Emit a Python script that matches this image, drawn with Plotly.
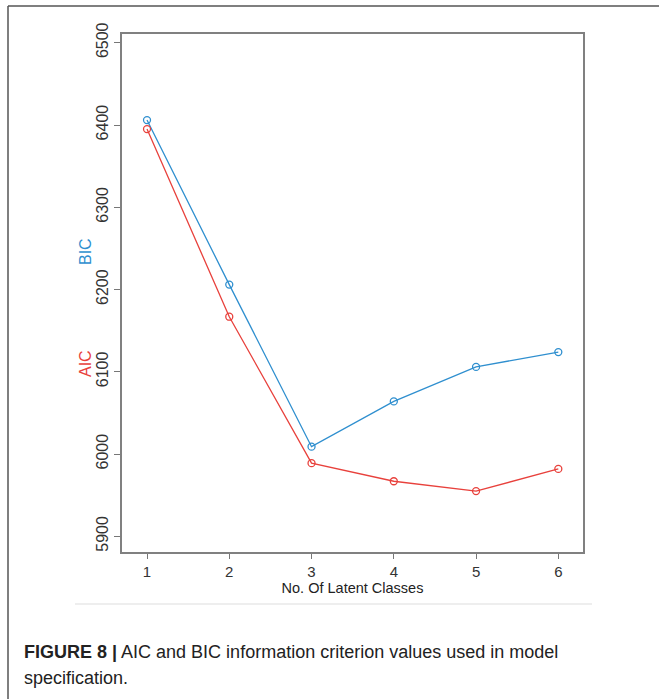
import plotly.graph_objects as go

classes = [1, 2, 3, 4, 5, 6]
aic = [6395, 6167, 5989, 5967, 5955, 5982]
bic = [6406, 6206, 6009, 6064, 6106, 6124]
y_ticks = [5900, 6000, 6100, 6200, 6300, 6400, 6500]

W, H = 659, 699
L, R, T, B = 122, 76, 34, 147
pw, ph = W - L - R, H - T - B

def px(x):
    return (x - L) / pw

def py(y):
    return (H - B - y) / ph

RED = "#e8413c"
BLUE = "#2f8fcf"
FONT = "Liberation Sans, Arial, sans-serif"

fig = go.Figure()
fig.add_trace(go.Scatter(x=classes, y=bic, mode="lines+markers",
                         line=dict(color=BLUE, width=1.3),
                         marker=dict(symbol="circle-open", size=7, color=BLUE, line=dict(width=1.3)),
                         showlegend=False))
fig.add_trace(go.Scatter(x=classes, y=aic, mode="lines+markers",
                         line=dict(color=RED, width=1.3),
                         marker=dict(symbol="circle-open", size=7, color=RED, line=dict(width=1.3)),
                         showlegend=False))

fig.update_layout(
    width=W, height=H,
    margin=dict(l=L, r=R, t=T, b=B),
    paper_bgcolor="white", plot_bgcolor="white",
    font=dict(family=FONT, color="#333333", size=15),
    xaxis=dict(range=[0.696, 6.30], tickvals=classes, ticks="outside", ticklen=5,
               tickcolor="#777777", showline=True, linecolor="#808080", linewidth=2,
               mirror=True, showgrid=False, zeroline=False,
               tickfont=dict(size=15, color="#333333", family=FONT),
               title=dict(text="No. Of Latent Classes", font=dict(size=14.5, color="#222222", family=FONT), standoff=4)),
    yaxis=dict(range=[5881, 6510.6], tickvals=y_ticks, ticks="outside", ticklen=6,
               tickcolor="#777777", showline=True, linecolor="#808080", linewidth=2,
               mirror=True, showgrid=False, zeroline=False, tickangle=-90,
               tickfont=dict(size=16, color="#333333", family=FONT)),
)

# axis titles (AIC red, BIC blue)
fig.add_annotation(text="AIC", xref="paper", yref="paper", x=px(85), y=py(364),
                   xanchor="center", yanchor="middle",
                   showarrow=False, textangle=-90, font=dict(size=16, color=RED, family=FONT))
fig.add_annotation(text="BIC", xref="paper", yref="paper", x=px(85), y=py(252),
                   xanchor="center", yanchor="middle",
                   showarrow=False, textangle=-90, font=dict(size=16, color=BLUE, family=FONT))

# outer frame and separator
fig.add_shape(type="line", xref="paper", yref="paper", x0=px(8), x1=px(8), y0=py(6), y1=py(H + 5),
              line=dict(color="#555555", width=1.5))
fig.add_shape(type="line", xref="paper", yref="paper", x0=px(8), x1=px(W + 5), y0=py(6), y1=py(6),
              line=dict(color="#555555", width=1.5))
fig.add_shape(type="line", xref="paper", yref="paper", x0=px(75), x1=px(592), y0=py(604), y1=py(604),
              line=dict(color="#dddddd", width=1))

# caption
cap_font = dict(size=18, color="#222222", family=FONT)
fig.add_annotation(text="<b>FIGURE 8 |</b> AIC and BIC information criterion values used in model",
                   xref="paper", yref="paper", x=px(22), y=py(652), xanchor="left", yanchor="middle",
                   align="left", showarrow=False, font=cap_font)
fig.add_annotation(text="specification.",
                   xref="paper", yref="paper", x=px(22), y=py(678), xanchor="left", yanchor="middle",
                   align="left", showarrow=False, font=cap_font)

fig.write_html("out.html")
